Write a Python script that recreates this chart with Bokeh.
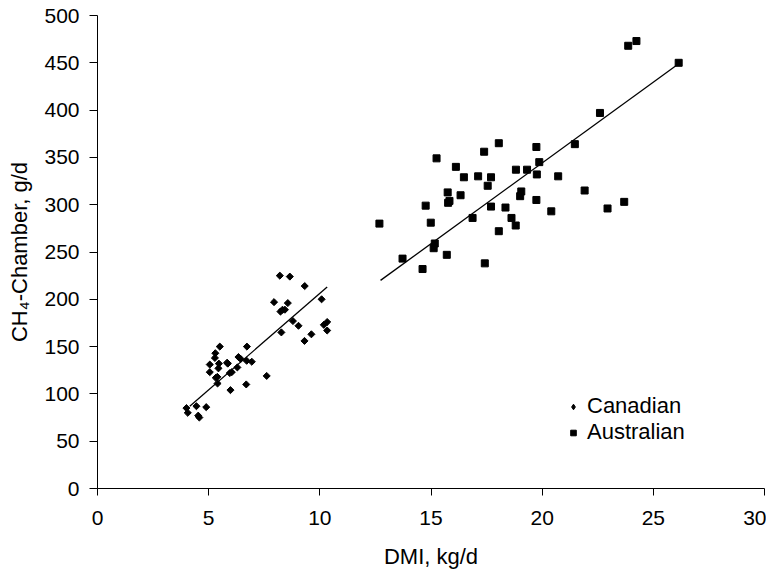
import math
from bokeh.plotting import figure
from bokeh.models import Range1d, FixedTicker, Legend, LegendItem
from bokeh.embed import file_html
from bokeh.resources import INLINE

# Canadian (diamonds)
can_x = [8.20, 8.65, 9.32, 7.94, 8.56, 8.23, 8.32, 8.43, 10.08, 8.79, 9.04, 8.27,
         10.33, 10.18, 10.33, 9.62, 9.31, 5.50, 5.30, 5.28, 6.72, 6.34, 6.44, 5.05,
         5.46, 5.83, 5.86, 6.71, 6.94, 5.44, 6.29, 5.05, 5.95, 6.04, 5.32, 5.39,
         7.61, 5.40, 6.69, 5.98, 4.00, 4.06, 4.45, 4.89, 4.53, 4.58]
can_y = [225, 224, 214, 197, 196, 187, 189, 189, 200, 177, 172, 165,
         176, 173, 167, 163, 156, 150, 143, 138, 150, 139, 137, 131,
         132, 133, 132, 135, 134, 127, 128, 123, 122, 123, 117, 118,
         119, 111, 110, 104, 85, 80, 87, 86, 77, 75]

# Australian (squares)
aus_x = [12.68, 15.25, 18.05, 17.39, 19.74, 16.12, 19.87, 16.48, 17.12, 17.70,
         17.55, 18.82, 19.32, 19.76, 20.72, 15.75, 15.83, 15.77, 16.33, 19.06,
         19.01, 19.74, 20.41, 14.76, 14.99, 16.87, 17.70, 18.35, 18.62, 18.81,
         18.05, 15.17, 15.12, 13.72, 14.62, 15.71, 17.42, 23.87, 24.24, 26.14,
         22.60, 21.47, 21.91, 22.94, 23.69]
aus_y = [280, 349, 365, 356, 361, 340, 345, 329, 330, 329,
         320, 337, 337, 332, 330, 313, 304, 302, 310, 314,
         309, 305, 293, 299, 281, 286, 298, 297, 286, 278,
         272, 259, 254, 243, 232, 247, 238, 468, 473, 450,
         397, 364, 315, 296, 303]

# regression lines (end points)
can_fit_x = [4.15, 10.33]
can_fit_y = [87, 213]
aus_fit_x = [12.73, 26.14]
aus_fit_y = [220, 449]

x_ticks = [0, 5, 10, 15, 20, 25, 30]
y_ticks = [0, 50, 100, 150, 200, 250, 300, 350, 400, 450, 500]

FONT = "Liberation Sans"
TICK_FS = "21px"
TITLE_FS = "22px"

p = figure(frame_width=667, frame_height=473, output_backend="svg",
           toolbar_location=None,
           x_range=Range1d(0, 30), y_range=Range1d(0, 500),
           min_border_left=97, min_border_right=2, min_border_top=15,
           min_border_bottom=20)
p.outline_line_color = None
p.grid.visible = False
p.background_fill_color = "white"
p.border_fill_color = "white"

for ax in (p.xaxis[0], p.yaxis[0]):
    ax.axis_line_color = "black"
    ax.major_tick_line_color = "black"
    ax.major_tick_in = 0
    ax.minor_tick_line_color = None
    ax.major_label_text_font = FONT
    ax.major_label_text_font_size = TICK_FS
    ax.major_label_text_color = "black"
    ax.axis_label_text_font = FONT
    ax.axis_label_text_font_size = TITLE_FS
    ax.axis_label_text_font_style = "normal"
    ax.axis_label_text_color = "black"

p.xaxis.ticker = FixedTicker(ticks=x_ticks)
p.yaxis.ticker = FixedTicker(ticks=y_ticks)
p.xaxis.axis_label = "DMI, kg/d"
p.yaxis.axis_label = "CH\u2084-Chamber, g/d"
p.xaxis.major_tick_out = 7
p.yaxis.major_tick_out = 8
p.xaxis.major_label_standoff = 15
p.xaxis.axis_label_standoff = 16
p.yaxis.major_label_standoff = 10
p.yaxis.axis_label_standoff = 9

r_can = p.scatter(can_x, can_y, marker="square", angle=math.pi / 4, size=5,
                  color="black")
r_aus = p.scatter(aus_x, aus_y, marker="square", size=7, color="black")
p.line(can_fit_x, can_fit_y, line_color="black", line_width=1.3)
p.line(aus_fit_x, aus_fit_y, line_color="black", line_width=1.3)

# zero-size diamond copy of the Canadian data, used only for the legend glyph
leg_can = p.scatter(can_x, can_y, marker="diamond", size=0, color="black")

legend = Legend(items=[LegendItem(label="Canadian", renderers=[leg_can]),
                       LegendItem(label="Australian", renderers=[r_aus])],
                location=(469, 43), orientation="vertical",
                glyph_width=14, glyph_height=25, label_height=25,
                label_standoff=7, spacing=0, padding=0, margin=0,
                border_line_color=None, background_fill_alpha=0,
                label_text_font=FONT, label_text_font_size=TITLE_FS,
                label_text_color="black")
p.add_layout(legend, "center")

open("out.html", "w").write(file_html(p, INLINE))
